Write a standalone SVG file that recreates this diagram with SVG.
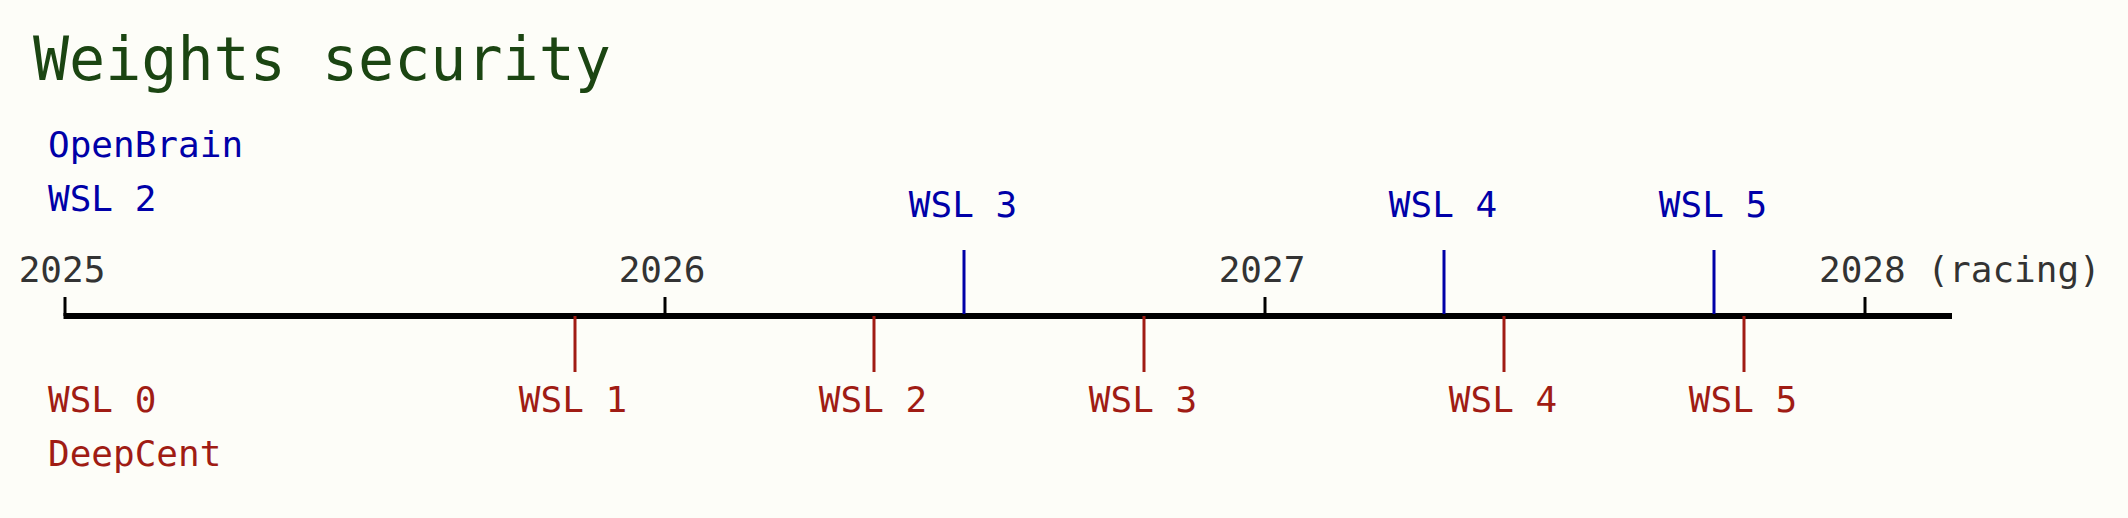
<svg xmlns="http://www.w3.org/2000/svg" width="2128" height="518" viewBox="0 0 2128 518">
<style>
text{font-family:"DejaVu Sans Mono","Liberation Mono",monospace}
.title{font-size:60px;fill:#1b4512}
.ob{font-size:36px;fill:#0000a8}
.dc{font-size:36px;fill:#a01c14}
.yr{font-size:36px;fill:#333333}
.mid{text-anchor:middle}
.tk{stroke:#000;stroke-width:3}
.btk{stroke:#0000a8;stroke-width:3}
.rtk{stroke:#a01c14;stroke-width:3}
</style>
<rect width="2128" height="518" fill="#fdfdf8"/>
<g id="title"><text class="title" x="33" y="80">Weights security</text></g>
<g id="axis">
<line x1="63.5" y1="316" x2="1952" y2="316" stroke="#000" stroke-width="6"/>
<line class="tk" x1="65" y1="297" x2="65" y2="316"/>
<line class="tk" x1="665" y1="297" x2="665" y2="316"/>
<line class="tk" x1="1265" y1="297" x2="1265" y2="316"/>
<line class="tk" x1="1865" y1="297" x2="1865" y2="316"/>
<text class="yr mid" x="62" y="282">2025</text>
<text class="yr mid" x="662" y="282">2026</text>
<text class="yr mid" x="1262" y="282">2027</text>
<text class="yr" x="1819" y="282">2028 (racing)</text>
</g>
<g id="openbrain">
<text class="ob" x="48" y="157">OpenBrain</text>
<text class="ob" x="48" y="211">WSL 2</text>
</g>
<g id="deepcent">
<text class="dc" x="48" y="412">WSL 0</text>
<text class="dc" x="48" y="466">DeepCent</text>
</g>
<g id="connectors">
<line class="btk" x1="964" y1="250" x2="964" y2="314"/>
<line class="btk" x1="1444" y1="250" x2="1444" y2="314"/>
<line class="btk" x1="1714" y1="250" x2="1714" y2="314"/>
<line class="rtk" x1="575" y1="316" x2="575" y2="372"/>
<line class="rtk" x1="874" y1="316" x2="874" y2="372"/>
<line class="rtk" x1="1144" y1="316" x2="1144" y2="372"/>
<line class="rtk" x1="1504" y1="316" x2="1504" y2="372"/>
<line class="rtk" x1="1744" y1="316" x2="1744" y2="372"/>
</g>
<g id="ob-wsl3"><text class="ob mid" x="963" y="217">WSL 3</text></g>
<g id="ob-wsl4"><text class="ob mid" x="1443" y="217">WSL 4</text></g>
<g id="ob-wsl5"><text class="ob mid" x="1713" y="217">WSL 5</text></g>
<g id="dc-wsl1"><text class="dc mid" x="573" y="412">WSL 1</text></g>
<g id="dc-wsl2"><text class="dc mid" x="873" y="412">WSL 2</text></g>
<g id="dc-wsl3"><text class="dc mid" x="1143" y="412">WSL 3</text></g>
<g id="dc-wsl4"><text class="dc mid" x="1503" y="412">WSL 4</text></g>
<g id="dc-wsl5"><text class="dc mid" x="1743" y="412">WSL 5</text></g>
</svg>
